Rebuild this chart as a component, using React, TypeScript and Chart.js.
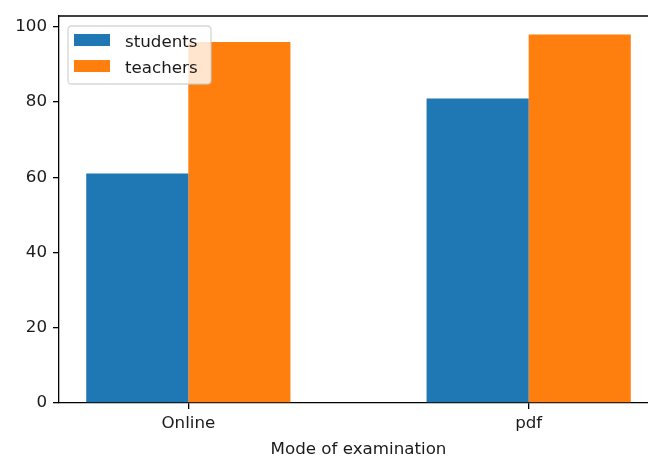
import React, { useEffect, useRef } from "react";
import { Chart, registerables } from "chart.js";

Chart.register(...registerables);

const CATEGORIES = ["Online", "pdf"];
const CATEGORY_POS = [0, 1];
const STUDENTS = [61, 81];
const TEACHERS = [96, 98];
const SERIES_LABELS = ["students", "teachers"];
const Y_TICKS = [0, 20, 40, 60, 80, 100];
const X_TITLE = "Mode of examination";

const FONT_SIZE = 16.7;
const FONT_FAMILY = '"DejaVu Sans", sans-serif';
const TEXT_COLOR = "#1a1a1a";
const CANVAS_W = 700;
const CANVAS_H = 480;

const spinePlugin = {
  id: "mplSpines",
  afterDraw(chart: any) {
    const { ctx, chartArea } = chart;
    ctx.save();
    ctx.strokeStyle = "#000";
    ctx.lineWidth = 1.3;
    ctx.beginPath();
    ctx.moveTo(chartArea.left, chartArea.top);
    ctx.lineTo(chartArea.right, chartArea.top);
    ctx.stroke();
    ctx.restore();
  },
};

const legendPlugin = {
  id: "mplLegend",
  afterDatasetsDraw(chart: any) {
    const { ctx, chartArea } = chart;
    const x0 = chartArea.left + 9;
    const y0 = chartArea.top + 10;
    const w = 143;
    const h = 58;
    const r = 3.5;
    ctx.save();
    ctx.beginPath();
    ctx.moveTo(x0 + r, y0);
    ctx.lineTo(x0 + w - r, y0);
    ctx.arcTo(x0 + w, y0, x0 + w, y0 + r, r);
    ctx.lineTo(x0 + w, y0 + h - r);
    ctx.arcTo(x0 + w, y0 + h, x0 + w - r, y0 + h, r);
    ctx.lineTo(x0 + r, y0 + h);
    ctx.arcTo(x0, y0 + h, x0, y0 + h - r, r);
    ctx.lineTo(x0, y0 + r);
    ctx.arcTo(x0, y0, x0 + r, y0, r);
    ctx.closePath();
    ctx.fillStyle = "rgba(255,255,255,0.8)";
    ctx.fill();
    ctx.strokeStyle = "rgba(204,204,204,0.8)";
    ctx.lineWidth = 1.3;
    ctx.stroke();
    chart.data.datasets.forEach((ds: any, i: number) => {
      const cy = y0 + 14 + i * 26;
      ctx.fillStyle = ds.backgroundColor;
      ctx.fillRect(x0 + 6, cy - 6, 36, 12);
      ctx.fillStyle = TEXT_COLOR;
      ctx.font = `${FONT_SIZE}px ${FONT_FAMILY}`;
      ctx.textBaseline = "alphabetic";
      ctx.textAlign = "left";
      ctx.fillText(ds.label, x0 + 57, cy + 7);
    });
    ctx.restore();
  },
};

export default function App() {
  const ref = useRef<HTMLCanvasElement | null>(null);

  useEffect(() => {
    if (!ref.current) return;
    const chart = new Chart(ref.current, {
      type: "bar",
      data: {
        datasets: [
          {
            label: SERIES_LABELS[0],
            data: CATEGORY_POS.map((x, i) => ({ x, y: STUDENTS[i] })),
            backgroundColor: "#1f77b4",
            borderWidth: 0,
            categoryPercentage: 0.6,
            barPercentage: 1,
          },
          {
            label: SERIES_LABELS[1],
            data: CATEGORY_POS.map((x, i) => ({ x, y: TEACHERS[i] })),
            backgroundColor: "#ff7f0e",
            borderWidth: 0,
            categoryPercentage: 0.6,
            barPercentage: 1,
          },
        ] as any,
      },
      options: {
        animation: false,
        responsive: false,
        maintainAspectRatio: false,
        layout: { padding: { left: 0, top: 13, right: CANVAS_W - 658, bottom: 0 } },
        plugins: {
          legend: { display: false },
          tooltip: { enabled: false },
        },
        scales: {
          x: {
            type: "linear",
            min: -0.38,
            max: 1.38,
            offset: false,
            afterBuildTicks: (scale: any) => {
              scale.ticks = CATEGORY_POS.map((v) => ({ value: v }));
            },
            afterFit: (scale: any) => {
              scale.height = CANVAS_H - 403;
            },
            grid: {
              display: true,
              offset: false,
              drawOnChartArea: false,
              drawTicks: true,
              tickLength: 6,
              color: "#000",
              lineWidth: 1.3,
            },
            border: { display: true, color: "#000", width: 1.3 },
            ticks: {
              autoSkip: false,
              maxRotation: 0,
              padding: 5,
              color: TEXT_COLOR,
              font: { size: FONT_SIZE, family: FONT_FAMILY },
              callback: (value: any) => CATEGORIES[Math.round(Number(value))],
            },
            title: {
              display: true,
              text: X_TITLE,
              color: TEXT_COLOR,
              font: { size: FONT_SIZE, family: FONT_FAMILY },
              padding: { top: 0, bottom: 20 },
            },
          },
          y: {
            type: "linear",
            min: 0,
            max: 102.9,
            afterBuildTicks: (scale: any) => {
              scale.ticks = Y_TICKS.map((v) => ({ value: v }));
            },
            afterFit: (scale: any) => {
              scale.width = 59;
            },
            grid: {
              display: true,
              drawOnChartArea: false,
              drawTicks: true,
              tickLength: 6,
              color: "#000",
              lineWidth: 1.3,
            },
            border: { display: true, color: "#000", width: 1.3 },
            ticks: {
              padding: 6,
              color: TEXT_COLOR,
              font: { size: FONT_SIZE, family: FONT_FAMILY },
            },
          },
        },
      } as any,
      plugins: [legendPlugin, spinePlugin],
    });
    return () => chart.destroy();
  }, []);

  return (
    <div
      style={{
        position: "fixed",
        left: 0,
        top: 0,
        width: 648,
        height: 456,
        overflow: "hidden",
        background: "#fff",
      }}
    >
      <canvas
        ref={ref}
        width={CANVAS_W}
        height={CANVAS_H}
        style={{ width: CANVAS_W, height: CANVAS_H, display: "block" }}
      />
    </div>
  );
}
